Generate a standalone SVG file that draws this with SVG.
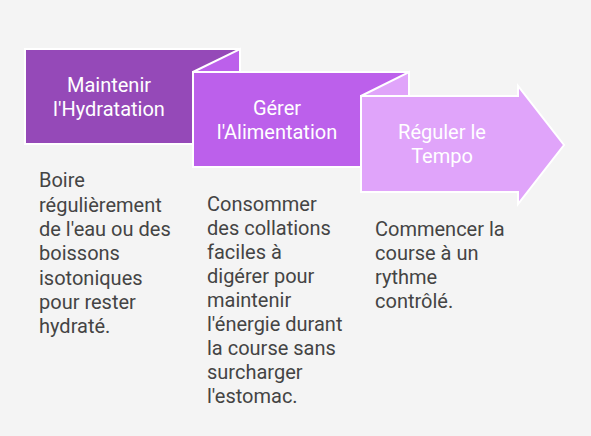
<svg xmlns="http://www.w3.org/2000/svg" width="591" height="436" viewBox="0 0 591 436">
<style>
.shape{stroke:#ffffff;stroke-width:2;stroke-linejoin:miter}
.c1{fill:#9549B8}
.c2{fill:#BC60EB}
.c3{fill:#E0A4FA}
.title{font-family:Roboto,"Liberation Sans",sans-serif;font-size:20px;fill:#ffffff;text-anchor:middle}
.desc{font-family:Roboto,"Liberation Sans",sans-serif;font-size:20px;fill:#444444}
</style>
<rect x="0" y="0" width="591" height="436" fill="#F4F4F4"/>
<g id="step1">
<rect class="shape c1" x="25" y="49" width="215" height="95"/>
<text class="title" x="109" y="91.7">Maintenir</text>
<text class="title" x="109" y="115.7">l'Hydratation</text>
</g>
<g id="step2">
<polygon class="shape c2" points="193,72 240,49 240,72"/>
<rect class="shape c2" x="193" y="72" width="216" height="95"/>
<text class="title" x="277" y="114.7">Gérer</text>
<text class="title" x="277" y="138.7">l'Alimentation</text>
</g>
<g id="step3">
<polygon class="shape c3" points="361,96 409,72 409,96"/>
<polygon class="shape c3" points="361,96 518,96 518,86 564,145 518,204 518,192 361,192"/>
<text class="title" x="442" y="139">Réguler le</text>
<text class="title" x="442" y="163">Tempo</text>
</g>
<g id="desc1">
<text class="desc" x="39" y="187.3">
<tspan x="39">Boire</tspan>
<tspan x="39" dy="24.3">régulièrement</tspan>
<tspan x="39" dy="24.3">de l'eau ou des</tspan>
<tspan x="39" dy="24.3">boissons</tspan>
<tspan x="39" dy="24.3">isotoniques</tspan>
<tspan x="39" dy="24.3">pour rester</tspan>
<tspan x="39" dy="24.3">hydraté.</tspan>
</text>
</g>
<g id="desc2">
<text class="desc" x="207" y="210.5">
<tspan x="207">Consommer</tspan>
<tspan x="207" dy="24.1">des collations</tspan>
<tspan x="207" dy="24.1">faciles à</tspan>
<tspan x="207" dy="24.1">digérer pour</tspan>
<tspan x="207" dy="24.1">maintenir</tspan>
<tspan x="207" dy="24.1">l'énergie durant</tspan>
<tspan x="207" dy="24.1">la course sans</tspan>
<tspan x="207" dy="24.1">surcharger</tspan>
<tspan x="207" dy="24.1">l'estomac.</tspan>
</text>
</g>
<g id="desc3">
<text class="desc" x="375" y="236">
<tspan x="375">Commencer la</tspan>
<tspan x="375" dy="24.1">course à un</tspan>
<tspan x="375" dy="24.1">rythme</tspan>
<tspan x="375" dy="24.1">contrôlé.</tspan>
</text>
</g>
<g id="connectors"></g>
</svg>
